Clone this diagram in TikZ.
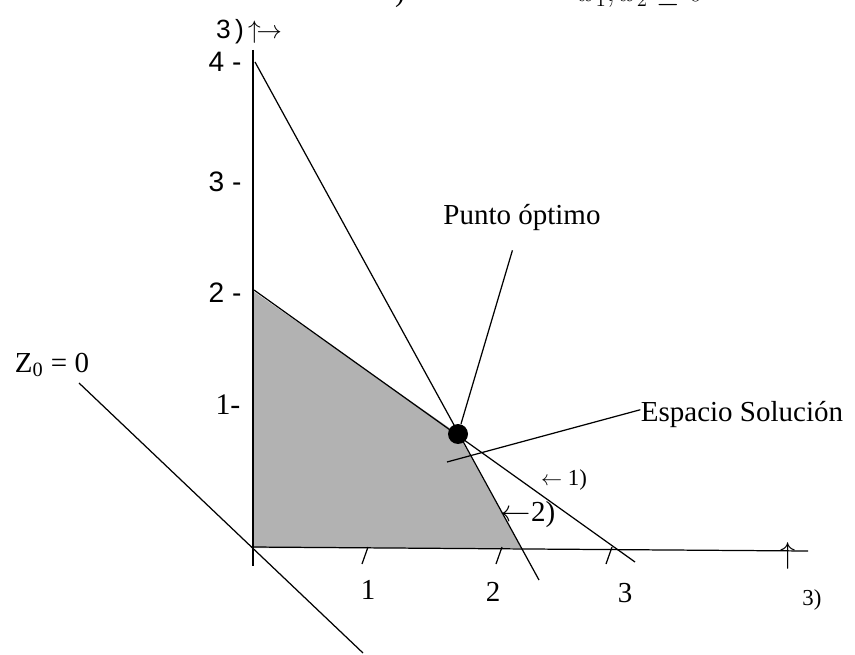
\documentclass[tikz,border=0pt]{standalone}
\usepackage{fontspec}
\setmainfont{Liberation Serif}
\newfontfamily\axsans{Liberation Sans}
\usetikzlibrary{positioning}
\begin{document}
\begin{tikzpicture}[x=0.02cm,y=-0.02cm,line width=0.7pt,every node/.style={inner sep=0pt,font=\fontsize{16.5}{20}\selectfont},ylab/.style={font=\axsans\fontsize{16}{18}\selectfont},small/.style={font=\fontsize{13}{15}\selectfont},region/.style={fill=black!30,draw=none}]
\useasboundingbox (0,0) rectangle (855,655);
\clip (0,0) rectangle (855,655);
\node[anchor=base](T1) at (400,2){)};
\node[anchor=base west](T2) at (578,2){$x_1,x_2\geq 0$};
\coordinate(O) at (253,548);\coordinate(B) at (253,291);\coordinate(C) at (521,548);
\coordinate(Yt) at (253,50);\coordinate(Yb) at (253,566);\coordinate(Xl) at (251,547);\coordinate(Xr) at (808,551);
\coordinate(L1a) at (254,290);\coordinate(L1b) at (635,562);\coordinate(L2a) at (255,62);\coordinate(L2b) at (539,580);
\coordinate(Za) at (79,383);\coordinate(Zb) at (363,653);\coordinate(S) at (447,462);
\coordinate(opt) at (458,434);
\fill[region](B)--(opt)--(C)--(O)--cycle;
\draw(Yt)--(Yb);\draw(Xl)--(Xr);
\draw(L1a)--(L1b);\draw(L2a)--(L2b);\draw(Za)--(Zb);
\foreach \x in {368,502,612}\draw(\x,547)--++(-6,17);
\node[circle,fill=black,minimum size=0.4cm](D) at (opt){};
\node[ylab,font=\axsans\fontsize{15}{18}\selectfont](TL) at (249,32){3\,)\,$\uparrow\!\rightarrow$};
\node[ylab](Y4) at (225,62){4 -};
\node[ylab](Y3) at (225,182){3 -};
\node[ylab](Y2) at (225,293){2 -};
\node[font=\fontsize{17}{20}\selectfont](Y1) at (228,405){1-};
\node(X1) at (368,590){1};\node(X2) at (493,592){2};\node(X3) at (625,593){3};
\node[font=\fontsize{19}{22}\selectfont](XU) at (788,556){$\uparrow$};
\node[small](XL) at (812,600){3)};
\node[small](R1) at (564,480){$\leftarrow$ 1)};
\node(R2) at (528,515){$\leftarrow$2)};
\node(Z) at (52,365){Z\textsubscript{0} = 0};
\node(P) at (522,218){Punto óptimo};
\node(E) at (742,415){Espacio Solución};
\draw[shorten <=11pt](P)--(D);\draw([yshift=3pt]E.west)--(S);
\end{tikzpicture}
\end{document}
